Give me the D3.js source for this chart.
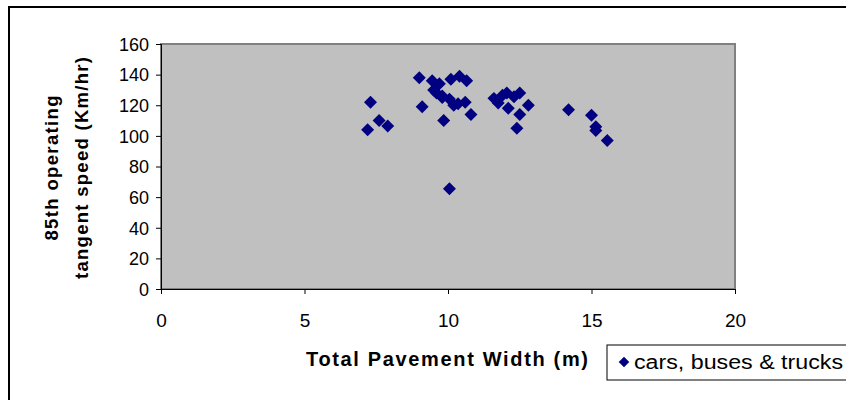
<!DOCTYPE html>
<html>
<head>
<meta charset="utf-8">
<script src="https://cdn.jsdelivr.net/npm/d3@7"></script>
<style>
  html, body { margin: 0; padding: 0; background: #fff; }
  svg { display: block; }
</style>
</head>
<body>
<svg id="chart" width="846" height="400"></svg>
<script>
// Pavement width (m) vs 85th percentile tangent speed (km/h)
const widths = [7.2, 7.3, 7.6, 7.9, 9.0, 9.1, 9.45, 9.5, 9.7, 9.8, 10.1, 10.4, 10.65,
                9.6, 9.8, 10.05, 10.2, 10.35, 10.6, 9.85, 10.8,
                11.6, 11.75, 11.9, 12.05, 12.1, 12.3, 12.5, 12.5, 12.8, 12.4,
                14.2, 15.0, 15.15, 15.15, 15.55, 10.05];
const speeds = [104, 122, 110, 106.5, 138, 119, 136, 130, 134, 126, 137, 139, 136,
                128, 125, 124, 120, 121, 122, 110, 114,
                124.5, 121.5, 126.5, 128, 118, 125.5, 128, 114, 120, 105,
                117, 113.5, 106, 103.5, 97, 65.5];
const xTicks = [0, 5, 10, 15, 20];
const yTicks = [0, 20, 40, 60, 80, 100, 120, 140, 160];
const seriesName = "cars, buses & trucks";
const xTitle = "Total Pavement Width (m)";
const yTitleLines = ["85th operating", "tangent speed (Km/hr)"];

const svg = d3.select("#chart");
const font = "Arial, 'Liberation Sans', sans-serif";

// outer chart frame
svg.append("rect")
  .attr("x", 9).attr("y", 7).attr("width", 850).attr("height", 400)
  .attr("fill", "#fff").attr("stroke", "#000").attr("stroke-width", 2);

const plot = { left: 161, right: 735, top: 44, bottom: 289 };
const x = d3.scaleLinear().domain([0, 20]).range([plot.left, plot.right]);
const y = d3.scaleLinear().domain([0, 160]).range([plot.bottom, plot.top]);

// plot area
svg.append("rect")
  .attr("x", plot.left).attr("y", plot.top)
  .attr("width", plot.right - plot.left).attr("height", plot.bottom - plot.top)
  .attr("fill", "#c0c0c0").attr("stroke", "#808080").attr("stroke-width", 2);

// axes
const xAxis = svg.append("g")
  .attr("transform", `translate(0,${plot.bottom})`)
  .call(d3.axisBottom(x).tickValues(xTicks).tickSize(5).tickPadding(20).tickFormat(d3.format("d")));
const yAxis = svg.append("g")
  .attr("transform", `translate(${plot.left},0)`)
  .call(d3.axisLeft(y).tickValues(yTicks).tickSize(5).tickPadding(7).tickFormat(d3.format("d")));

[xAxis, yAxis].forEach(g => {
  g.select(".domain").attr("stroke", "#000").attr("stroke-width", 1);
  g.selectAll(".tick line").attr("stroke", "#000");
  g.selectAll(".tick text")
    .attr("fill", "#000")
    .style("font-family", font);
});
xAxis.selectAll(".tick text").style("font-size", "19px");
yAxis.selectAll(".tick text").style("font-size", "18px").attr("dy", "0.35em");

// points
const diamond = d3.symbol().type(d3.symbolSquare).size(84);
svg.append("g").selectAll("path")
  .data(widths.map((w, i) => [w, speeds[i]]))
  .join("path")
  .attr("d", diamond)
  .attr("transform", d => `translate(${x(d[0])},${y(d[1])}) rotate(45)`)
  .attr("fill", "#000080");

// axis titles
svg.append("text")
  .attr("x", 306).attr("y", 366)
  .attr("textLength", 282).attr("lengthAdjust", "spacing")
  .style("font-family", font).style("font-weight", "bold").style("font-size", "20px")
  .text(xTitle);

const yLineBase = [58, 88];
const yLineLen = [145, 222];
yTitleLines.forEach((t, i) => {
  svg.append("text")
    .attr("transform", `translate(${yLineBase[i]},${168 + yLineLen[i] / 2}) rotate(-90)`)
    .attr("textLength", yLineLen[i]).attr("lengthAdjust", "spacing")
    .style("font-family", font).style("font-weight", "bold").style("font-size", "18.5px")
    .text(t);
});

// legend
const lg = svg.append("g");
lg.append("rect")
  .attr("x", 607).attr("y", 345).attr("width", 260).attr("height", 35)
  .attr("fill", "#fff").attr("stroke", "#000").attr("stroke-width", 1);
lg.append("path")
  .attr("d", d3.symbol().type(d3.symbolSquare).size(56))
  .attr("transform", "translate(624,362) rotate(45)")
  .attr("fill", "#000080");
lg.append("text")
  .attr("x", 634).attr("y", 369)
  .attr("textLength", 209).attr("lengthAdjust", "spacingAndGlyphs")
  .style("font-family", font).style("font-size", "20px")
  .text(seriesName);
</script>
</body>
</html>
